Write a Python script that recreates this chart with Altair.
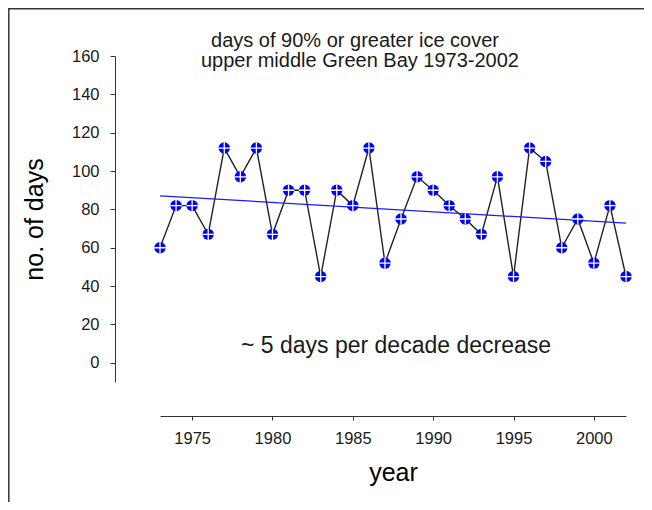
import altair as alt
import pandas as pd

years = list(range(1973, 2003))
days = [60, 82, 82, 67, 112, 97, 112, 67, 90, 90,
        45, 90, 82, 112, 52, 75, 97, 90, 82, 75,
        67, 97, 45, 112, 105, 60, 75, 52, 82, 45]
x_ticks = [1975, 1980, 1985, 1990, 1995, 2000]
y_ticks = [0, 20, 40, 60, 80, 100, 120, 140, 160]
title_lines = ["days of 90% or greater ice cover", "upper middle Green Bay 1973-2002"]
note = "~ 5 days per decade decrease"

df = pd.DataFrame({"year": years, "days": days})
one = pd.DataFrame({"k": [0]})

FONT = "Liberation Sans"
TXT = "#1a1a1a"

x_enc = alt.X("year:Q", scale=alt.Scale(domain=[1973, 2002], nice=False, zero=False),
              axis=alt.Axis(values=x_ticks, format="d", title="year", offset=34,
                            grid=False, domainColor="#333", tickColor="#333",
                            tickSize=4, labelPadding=10, labelFontSize=16.5,
                            labelFont=FONT, labelColor=TXT, titleFont=FONT,
                            titleFontSize=25, titleFontWeight="normal",
                            titleColor="#000", titlePadding=14))
y_enc = alt.Y("days:Q", scale=alt.Scale(domain=[-10, 160], nice=False, zero=False),
              axis=alt.Axis(values=y_ticks, title="no. of days", offset=45,
                            grid=False, domainColor="#333", tickColor="#333",
                            tickSize=5, labelPadding=11, labelFontSize=16.5,
                            labelFont=FONT, labelColor=TXT, titleFont=FONT,
                            titleFontSize=25, titleFontWeight="normal",
                            titleColor="#000", titlePadding=24))

base = alt.Chart(df)

line = base.mark_line(color="#222", strokeWidth=1.4).encode(x=x_enc, y=y_enc)
trend = base.transform_regression("year", "days", extent=[1973, 2002]).mark_line(
    color="#1a1aff", strokeWidth=1.3).encode(x="year:Q", y="days:Q")
dots = base.mark_point(shape="circle", filled=True, color="#0000ff", opacity=1,
                       size=130).encode(x="year:Q", y="days:Q")
cross = base.mark_point(shape="M-1,0L1,0M0,-1L0,1", filled=False, color="white",
                        strokeWidth=1.3, opacity=1, size=130).encode(x="year:Q", y="days:Q")

t1 = alt.Chart(one).mark_text(text=title_lines[0], font=FONT, fontSize=20, color=TXT,
                              align="center", baseline="alphabetic").encode(
    x=alt.value(195), y=alt.value(-9))
t2 = alt.Chart(one).mark_text(text=title_lines[1], font=FONT, fontSize=20, color=TXT,
                              align="center", baseline="alphabetic").encode(
    x=alt.value(200), y=alt.value(11))
ann = alt.Chart(one).mark_text(text=note, font=FONT, fontSize=23, color=TXT,
                               align="center", baseline="alphabetic").encode(
    x=alt.value(236), y=alt.value(297))

frame_top = alt.Chart(one).mark_rule(color="#333", strokeWidth=1.5).encode(
    x=alt.value(-152), x2=alt.value(484), y=alt.value(-47.2))
frame_left = alt.Chart(one).mark_rule(color="#333", strokeWidth=1.5).encode(
    x=alt.value(-151.2), y=alt.value(-48), y2=alt.value(446))

chart = alt.layer(frame_top, frame_left, line, trend, dots, cross, t1, t2, ann).properties(
    width=466, height=326,
    autosize=alt.AutoSizeParams(type="none"),
    padding={"left": 152, "top": 48, "right": 18, "bottom": 120},
).configure_view(stroke=None)

chart.save("out.html", embed_options={"renderer": "svg", "actions": False})
